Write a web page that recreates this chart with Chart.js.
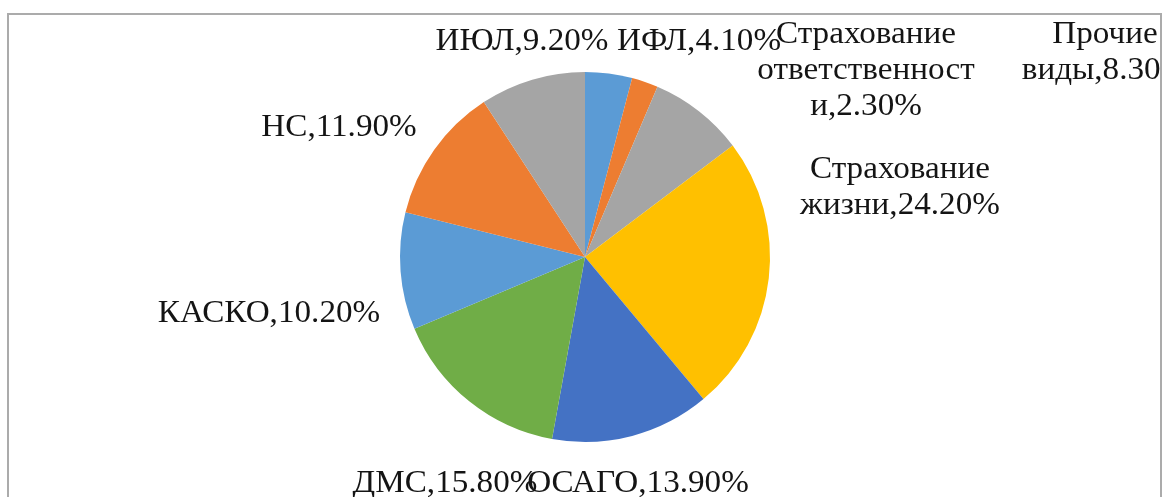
<!DOCTYPE html>
<html>
<head>
<meta charset="utf-8">
<script src="https://cdn.jsdelivr.net/npm/chart.js@4/dist/chart.umd.min.js"></script>
<style>
  html, body { margin: 0; padding: 0; background: #fff; }
  #wrap { position: relative; width: 1170px; height: 497px; }
</style>
</head>
<body>
<div id="wrap"><canvas id="pie" width="1170" height="497"></canvas></div>
<script>
// доли видов страхования, %
let categories = ['ИФЛ', 'Страхование ответственности', 'Прочие виды', 'Страхование жизни',
                  'ОСАГО', 'ДМС', 'КАСКО', 'НС', 'ИЮЛ'];
let shares = [4.1, 2.3, 8.3, 24.2, 13.9, 15.8, 10.2, 11.9, 9.2];
let shareLabels = ['4.10%', '2.30%', '8.30%', '24.20%', '13.90%', '15.80%', '10.20%', '11.90%', '9.20%'];
let colors = ['#5b9bd5', '#ed7d31', '#a5a5a5', '#ffc000', '#4472c4', '#70ad47', '#5b9bd5', '#ed7d31', '#a5a5a5'];

// how the label text wraps and where it sits (center x, first baseline)
let labelLines = [
    [categories[0] + ',' + shareLabels[0]],
    ['Страхование', 'ответственност', 'и,' + shareLabels[1]],
    ['Прочие', 'виды,' + shareLabels[2]],
    ['Страхование', 'жизни,' + shareLabels[3]],
    [categories[4] + ',' + shareLabels[4]],
    [categories[5] + ',' + shareLabels[5]],
    [categories[6] + ',' + shareLabels[6]],
    [categories[7] + ',' + shareLabels[7]],
    [categories[8] + ',' + shareLabels[8]]
];
let labelPos = [
    [699, 50], [866, 43], [1105, 43], [900, 178],
    [638, 492], [445, 492], [269, 322], [339, 136], [522, 50]
];

let canvas = document.getElementById('pie');

let labelPlugin = {
    id: 'outsideLabels',
    afterDraw: function (chart) {
        let ctx = chart.ctx;
        ctx.save();
        // frame
        ctx.strokeStyle = '#ababab';
        ctx.lineWidth = 2;
        ctx.strokeRect(8, 14, 1153, 500);
        ctx.beginPath();
        ctx.rect(9, 15, 1151, 498);
        ctx.clip();
        ctx.fillStyle = '#141414';
        ctx.font = '31px "Liberation Serif", "Times New Roman", serif';
        ctx.textAlign = 'center';
        ctx.textBaseline = 'alphabetic';
        for (let i = 0; i < labelLines.length; i++) {
            let lines = labelLines[i];
            for (let j = 0; j < lines.length; j++) {
                ctx.save();
                ctx.translate(labelPos[i][0], labelPos[i][1] + j * 36);
                ctx.scale(1.07, 1);
                ctx.fillText(lines[j], 0, 0);
                ctx.restore();
            }
        }
        ctx.restore();
    }
};

let chart = new Chart(canvas, {
    type: 'pie',
    data: {
        labels: categories,
        datasets: [{
            data: shares,
            backgroundColor: colors,
            borderWidth: 0
        }]
    },
    options: {
        responsive: false,
        animation: false,
        layout: {
            padding: { top: 72, bottom: 55, left: 10, right: 10 }
        },
        plugins: {
            legend: { display: false },
            tooltip: { enabled: false }
        }
    },
    plugins: [labelPlugin]
});
</script>
</body>
</html>
